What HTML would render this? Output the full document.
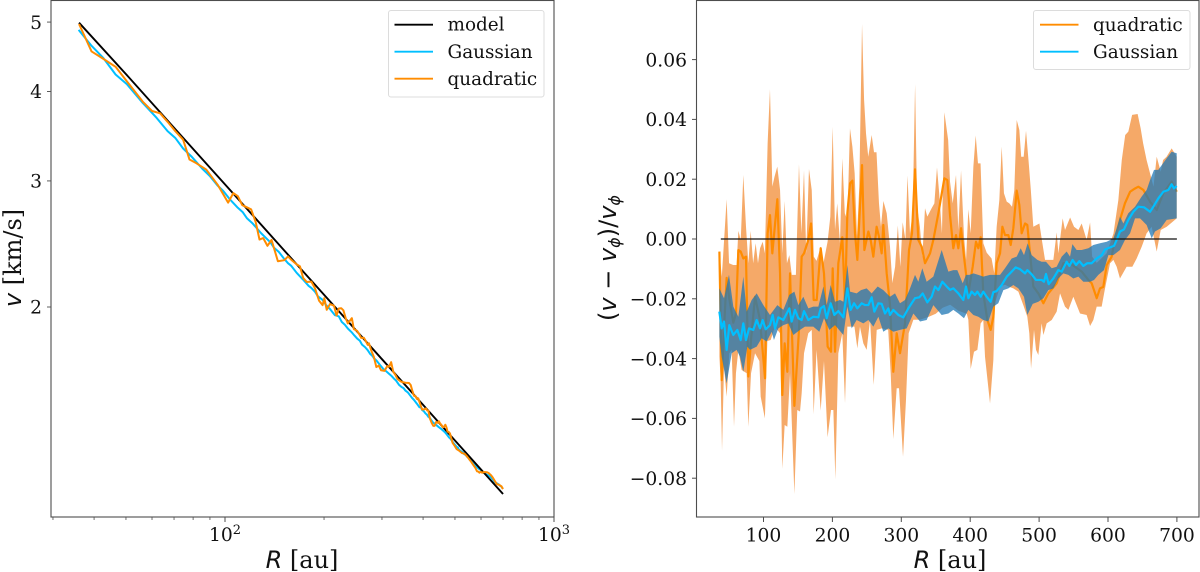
<!DOCTYPE html>
<html lang="en">
<head>
<meta charset="utf-8">
<title>Rotation velocity comparison</title>
<style>
html,body{margin:0;padding:0;background:#fff;width:1200px;height:572px;overflow:hidden}
svg{display:block}
text{font-family:"DejaVu Serif","Liberation Serif",serif;fill:#111}
.tick{font-size:18.7px}
.legend{font-size:18.4px}
.label{font-size:24px}
.math{font-family:"DejaVu Sans","Liberation Sans",sans-serif;font-style:italic}
.up{font-family:"DejaVu Sans","Liberation Sans",sans-serif;font-style:normal}
</style>
</head>
<body>
<svg id="chart" xmlns="http://www.w3.org/2000/svg" width="1200" height="572" viewBox="0 0 1200 572">
  <rect x="0" y="0" width="1200" height="572" fill="#fff"/>
  <g id="left-marks"></g>
  <g id="right-marks"></g>
  <g id="left-axes"></g>
  <g id="right-axes"></g>

  <text class="label" x="302" y="568" text-anchor="middle"><tspan class="math">R</tspan> [au]</text>
  <text class="label" text-anchor="middle" transform="translate(21,258) rotate(-90)"><tspan class="math">v</tspan> [km/s]</text>
  <text class="label" x="950" y="568" text-anchor="middle"><tspan class="math">R</tspan> [au]</text>
  <text class="label" font-size="23" text-anchor="middle" transform="translate(616,258) rotate(-90)"><tspan class="up">(</tspan><tspan class="math">v</tspan><tspan class="up"> − </tspan><tspan class="math">v</tspan><tspan class="math" font-size="16" dy="4">ϕ</tspan><tspan class="up" dy="-4">)/</tspan><tspan class="math">v</tspan><tspan class="math" font-size="16" dy="4">ϕ</tspan></text>

  <g>
    <rect x="388.5" y="10.5" width="155.5" height="86.5" rx="2.5" fill="#fff" fill-opacity="0.8" stroke="#dcdcdc" stroke-width="1"/>
    <line x1="394.5" x2="433" y1="24.7" y2="24.7" stroke="#000" stroke-width="1.9"/>
    <text class="legend" x="447.5" y="30.5">model</text>
    <line x1="394.5" x2="433" y1="51.7" y2="51.7" stroke="#00bfff" stroke-width="1.9"/>
    <text class="legend" x="447.5" y="58">Gaussian</text>
    <line x1="394.5" x2="433" y1="78.7" y2="78.7" stroke="#ff8c00" stroke-width="1.9"/>
    <text class="legend" x="447.5" y="85">quadratic</text>
  </g>
  <g>
    <rect x="1033.5" y="10.5" width="156.5" height="59" rx="2.5" fill="#fff" fill-opacity="0.8" stroke="#dcdcdc" stroke-width="1"/>
    <line x1="1040" x2="1078.5" y1="24.7" y2="24.7" stroke="#ff8c00" stroke-width="1.9"/>
    <text class="legend" x="1093" y="31">quadratic</text>
    <line x1="1040" x2="1078.5" y1="51.7" y2="51.7" stroke="#00bfff" stroke-width="1.9"/>
    <text class="legend" x="1093" y="58">Gaussian</text>
  </g>
</svg>

<script>
// Left panel: model rotation curve, R [au] and v [km/s]
const modelRadius = [36, 50, 70, 100, 150, 200, 300, 400, 500, 600, 700];
const modelVelocity = [4.99, 4.23, 3.56, 2.967, 2.41, 2.08, 1.691, 1.46, 1.302, 1.186, 1.096];

// Right panel: fractional deviation (v - v_phi) / v_phi as [R, value] pairs
const quadraticUpper = [[36,-.0042],[39.5,-.0126],[46.5,.0133],[50,-.0081],[56,-.0087],[61,-.0087],[63.5,.0027],[67,-.0003],[70.7,.0214],[74.6,.0041],[78,-.0081],[81.4,.0027],[85,-.0081],[88.6,-.0014],[92,-.0081],[95,-.0031],[98.8,-.0009],[102,-.0048],[106,.032],[109.4,.0501],[112.8,.0175],[116,.0208],[120,.0242],[124,.0164],[127.3,-.0048],[130.7,.0127],[134,-.0081],[137.5,-.0054],[141,-.012],[147,-.012],[151.5,.025],[155,.0019],[158.8,.0229],[162,-.0048],[166,.0234],[170,.0164],[173,-.0059],[177,-.0073],[183,-.0026],[187,-.0081],[193,-.0009],[197,.0075],[200.4,.0375],[203.8,.003],[207,.0119],[211,-.0014],[214.4,.027],[218,.0086],[221.7,.0064],[225.5,.037],[229,.0309],[232.3,.022],[235.7,.0008],[239,.0175],[243,.0719],[246,.0465],[248.8,.0353],[252,.0275],[257,.0348],[260.4,.029],[264,.029],[267.6,.0119],[270.5,.0041],[274,.0127],[278.8,.0086],[283.6,-.0026],[287,-.0147],[291,-.0093],[295,.0045],[298.6,-.0093],[302,.0056],[306,-.0003],[309,.0212],[312.6,.0019],[316.5,.0086],[320,.0518],[323,.0108],[327,.0041],[330.5,-.0059],[334.4,.0103],[337.8,.0075],[344,.0103],[348,.0119],[351.8,.0239],[355,.0153],[359,.0019],[362.5,.0424],[368,.0331],[370.7,.0192],[374.6,.0119],[379.4,.0214],[382.8,.003],[386.7,.0229],[391,.0008],[394,-.007],[397.3,.0099],[400.7,.0019],[404.6,.0242],[408,.0346],[411.3,.0253],[415,.0253],[419,-.0014],[424,-.0046],[431,-.0065],[435,-.0115],[438.4,.0041],[442.3,.013],[445.7,.0309],[449,.0153],[453,.0125],[456.8,.0119],[460.7,.0108],[464,.0164],[467.5,.0398],[471.3,.0365],[474,.0275],[477.6,.0275],[481,.0362],[485,.0253],[488,.0164],[491.6,.0041],[500.4,.0052],[504,-.0003],[508.6,-.007],[520.7,-.007],[525.5,.0022],[528,-.0048],[534.2,.0069],[537.6,.003],[545,.0072],[550.7,.0041],[557,.003],[561.8,.0052],[569,-.0003],[574,.0055],[577,-.0059],[583.6,-.008],[598,-.0048],[608,.0019],[615,.013],[620,.0264],[625,.0348],[629.5,.0359],[635,.0415],[643,.0418],[647.4,.037],[651,.032],[656,.0264],[661,.022],[666,.0175],[670.7,.0275],[676.5,.0225],[680,.0264],[685,.0275],[692.4,.0303],[699.7,.0275]];

const quadraticLower = [[36,-.0393],[37.8,-.0472],[39.8,-.0708],[42.7,-.0427],[46.5,-.0527],[50.4,-.0382],[53.8,-.0371],[57.2,-.0628],[60,-.0449],[63.5,-.0371],[68.3,-.0438],[71.7,-.0443],[75.6,-.0449],[78,-.0628],[81.9,-.0449],[87.7,-.0382],[94,-.0408],[95.9,-.0527],[102,-.06],[105.6,-.0341],[110.4,-.0338],[116.7,-.0293],[124,-.0315],[127.3,-.0769],[130.7,-.0622],[134.6,-.0628],[138.5,-.0449],[144.8,-.0853],[149,-.0572],[153,-.0577],[155.4,-.0516],[158.8,-.0382],[165,-.0315],[170,-.0304],[172.8,-.0586],[177,-.0371],[183,-.0574],[187.8,-.0408],[193,-.0663],[198,-.0572],[201.4,-.0572],[204.3,-.0804],[208.6,-.0382],[214.4,-.0315],[218.3,-.0549],[221.7,-.0293],[228,-.0293],[232,-.0293],[236.2,-.0366],[240,-.0293],[244.9,-.0349],[249.7,-.0371],[254.6,-.0271],[260,-.0488],[264.3,-.0304],[271.5,-.0299],[281,-.0304],[284.6,-.0449],[288.4,-.0669],[293.3,-.0499],[296.7,-.0499],[302.5,-.0728],[306.8,-.0538],[310.7,-.0315],[317.5,-.027],[327,-.027],[340,-.026],[350,-.025],[360,-.023],[371,-.022],[382.8,-.024],[395,-.025],[397.3,-.027],[400.7,-.0435],[405.5,-.0377],[410.4,-.0371],[415.2,-.0282],[419,-.0271],[421.5,-.0394],[428.8,-.055],[433.6,-.0405],[436,-.0215],[443.3,-.0159],[450.5,-.0153],[455.4,-.0159],[462.6,-.0165],[469.9,-.0176],[477.1,-.0221],[482.9,-.026],[485.8,-.0315],[488.3,-.0433],[492.6,-.0304],[495.5,-.0371],[498.9,-.0388],[503.7,-.0282],[506.2,-.0321],[511,-.0282],[518.3,-.0271],[525.5,-.0243],[530.4,-.0182],[537.6,-.0226],[542.5,-.0237],[549.7,-.0193],[559.4,-.0249],[569,-.0254],[574,-.0291],[578.7,-.0271],[583.6,-.0226],[590.8,-.0226],[595.7,-.0165],[603,-.0081],[607.8,-.007],[612.6,-.0093],[617.4,-.0132],[627,-.0093],[635.3,-.0093],[641.6,-.0065],[648.9,-.0026],[656,.0019],[663.4,.0041],[670.7,-.0042],[676.5,.003],[685.2,.0041],[699.7,.0069]];

const quadraticMean = [[36,-.0042],[39.3,-.0472],[42.7,-.03],[46.5,-.013],[50.4,-.02],[56.2,-.028],[60,-.025],[63.5,-.0037],[66.9,-.0042],[70.7,-.0065],[74.6,-.0059],[78,-.046],[81.9,-.0337],[87.7,-.0193],[94.9,-.027],[102.2,-.0466],[106,.0019],[109.4,.008],[112.8,-.0048],[120.1,.0133],[124,-.0115],[127.3,-.0522],[130.7,-.0349],[134.6,-.0444],[138.5,-.0115],[144.8,-.0558],[151.5,-.0304],[155.4,-.0059],[158.8,-.0048],[165.1,-.0003],[169,.0052],[172.8,-.0204],[177.2,-.0204],[183,-.0031],[187.8,-.0115],[193.1,-.036],[198,-.0377],[200.4,-.0098],[203.8,-.0377],[208.6,-.0081],[214.4,.0006],[218.3,-.0215],[221.7,.0086],[225.6,.0186],[229,.0195],[232.8,.0019],[236.2,-.007],[243,.0247],[246.4,-.0037],[252.2,.0025],[255.5,-.0003],[259.4,-.0059],[264.2,.0041],[267.6,.0008],[271.5,-.0048],[273.9,.0047],[278.8,-.0115],[283.6,-.022],[288.4,-.0444],[293.3,-.0315],[298.1,-.0382],[305.4,-.0282],[311.2,-.0037],[315.5,.0019],[319.9,.0233],[324.7,-.0003],[329.6,-.0026],[334.4,-.0081],[341.7,-.0048],[346.5,-.0003],[353.8,.0086],[362.5,.0203],[366.8,.0197],[370.7,.008],[375.5,-.0031],[379.4,.0013],[382.8,-.0031],[386.7,.0036],[391,-.0059],[397.3,-.0182],[403.6,-.0093],[408.4,-.0009],[411.8,-.0031],[415.2,.0006],[419,-.0182],[424.9,-.0271],[429.7,-.0304],[433.6,-.026],[438.4,-.0081],[443.3,-.0048],[446.7,.0041],[450.5,.0013],[455.4,.0013],[458.8,-.002],[462.6,.0036],[467.5,.0162],[471.3,.0114],[474.7,.0019],[479.6,.0052],[482.9,.0047],[486.8,-.0048],[491.6,-.0159],[498.9,-.0182],[506.2,-.0215],[513.4,-.0182],[525.5,-.0148],[535.2,-.0081],[544.9,-.0081],[561.8,-.0109],[571.5,-.0137],[576.3,-.0148],[583.6,-.0198],[588.4,-.0165],[593.2,-.016],[598.1,-.0087],[605.3,-.0059],[610.2,.0002],[617.4,.0064],[624.7,.012],[632,.0158],[639.2,.0169],[644,.0175],[651.3,.0164],[661,.0125],[670.7,.0097],[680.3,.0153],[692.4,.0192],[699.7,.0158]];

const gaussianUpper = [[35.9,-.0165],[42.7,-.0198],[49.9,-.012],[56.2,-.0226],[63.5,-.026],[70.7,-.0126],[75.6,-.0243],[82.8,-.0204],[90.1,-.0182],[99.8,-.0221],[109.4,-.0254],[120.1,-.0221],[128.8,-.0237],[137.5,-.0187],[144.8,-.0176],[150.6,-.0221],[157.8,-.0193],[165.1,-.0232],[172.3,-.0226],[179.6,-.0226],[186.9,-.0159],[191.7,-.0221],[197.5,-.0154],[203.8,-.021],[211,-.0204],[215.9,-.021],[221.7,-.0087],[225.6,-.0176],[235.2,-.0182],[241.5,-.0171],[249.7,-.0165],[257,-.0182],[265.7,-.0159],[273.9,-.0171],[283.6,-.0193],[290.9,-.0182],[298.1,-.0215],[305.4,-.0204],[311.7,-.0171],[319.9,-.012],[324.7,-.0143],[330.5,-.0098],[336.8,-.0143],[346.5,-.0126],[358.6,-.0037],[368.3,-.0109],[375.5,-.0104],[381.3,-.0104],[389.1,-.0148],[393.9,-.012],[398.8,-.012],[404.6,-.0115],[411.8,-.012],[419,-.0126],[428.8,-.012],[435,-.012],[443.3,-.012],[450.5,-.0098],[460.2,-.0065],[467.5,-.0059],[473.3,-.0031],[478.1,-.0054],[483.4,-.0014],[489.2,-.0054],[497.5,-.007],[503.7,-.0076],[510,-.0076],[518.3,-.0098],[525.5,-.0093],[532.8,-.0059],[540,-.0042],[544.9,-.0059],[548.3,-.0017],[554.5,-.0037],[561.8,-.0037],[571.5,-.0031],[578.7,-.002],[588.4,-.0014],[598.1,-.0009],[607.8,.0002],[612.6,.0036],[617.4,.0075],[622.3,.0052],[629.5,.0086],[639.2,.0108],[648.9,.0142],[656.1,.0164],[661,.0197],[666.8,.0231],[673,.0231],[685.2,.027],[692.4,.0292],[699.7,.0287]];

const gaussianLower = [[35.9,-.0327],[39.3,-.0394],[46.5,-.0483],[53.8,-.0382],[61,-.0371],[65.9,-.0394],[70.7,-.0444],[76.5,-.036],[80.4,-.0371],[90.1,-.036],[97.3,-.0332],[104.6,-.0343],[111.9,-.031],[115.2,-.0338],[121.5,-.0299],[128.8,-.0288],[136,-.0282],[143.3,-.0321],[153,-.0304],[160.2,-.0293],[172.3,-.0293],[181,-.031],[187.8,-.0265],[195.6,-.0304],[203.8,-.0288],[215.9,-.0321],[221.7,-.0226],[228,-.0299],[235.2,-.0271],[244.9,-.0282],[252.2,-.0271],[259.4,-.0293],[266.7,-.026],[273.9,-.031],[281.2,-.0299],[288.4,-.031],[298.1,-.0304],[307.8,-.0299],[317.5,-.0249],[327.2,-.0276],[336.8,-.0271],[346.5,-.0221],[358.6,-.0254],[368.3,-.0249],[375.5,-.0237],[382.8,-.0249],[391,-.0265],[397.3,-.0237],[404.6,-.0254],[411.8,-.026],[419,-.0271],[426.3,-.0276],[433.6,-.0226],[440.8,-.0215],[448.1,-.0171],[455.4,-.0165],[462.6,-.0154],[469.9,-.0165],[478.1,-.0193],[482.9,-.0254],[490.7,-.0217],[498.9,-.021],[506.2,-.0198],[513.4,-.0171],[520.7,-.0165],[527.9,-.0132],[535.2,-.0115],[542.5,-.012],[549.7,-.0132],[557,-.0126],[564.2,-.0143],[573.9,-.0143],[579.7,-.0137],[586,-.012],[594.2,-.0104],[600.5,-.0054],[607.8,-.0054],[617.4,-.0037],[624.7,-.0003],[632,.0019],[639.2,.0069],[646.5,.0069],[656.1,.0047],[663.4,.0002],[668.2,.0025],[676.5,.0036],[685.2,.0064],[699.7,.0069]];

const gaussianMean = [[35.9,-.0243],[39.3,-.0299],[42.7,-.0276],[46.5,-.0371],[50.4,-.0288],[56.2,-.0321],[62,-.0304],[66.9,-.0338],[70.7,-.0282],[74.6,-.0338],[79,-.0299],[85.2,-.0304],[90.1,-.0271],[94.9,-.0299],[98.8,-.0271],[103.2,-.0302],[109.4,-.0288],[113.3,-.0254],[116.7,-.0299],[121.5,-.0262],[128.8,-.0271],[137.5,-.0232],[140.9,-.0276],[145.7,-.0237],[150.6,-.0265],[155.4,-.0271],[158.8,-.0241],[165.1,-.0271],[172.3,-.026],[179.6,-.0262],[183,-.0232],[187.8,-.0224],[191.7,-.0265],[197.5,-.0215],[202.8,-.0254],[208.6,-.0241],[215.9,-.0262],[221.7,-.0165],[226.5,-.0237],[231.4,-.0215],[236.2,-.0232],[242.5,-.0215],[247.3,-.0221],[252.2,-.0221],[257,-.0195],[260.9,-.0243],[266.7,-.0215],[271.5,-.0217],[276.4,-.0249],[281.2,-.0232],[283.6,-.0254],[288.4,-.0237],[295.7,-.0254],[303,-.0262],[310.2,-.0232],[315.1,-.0215],[319.9,-.0198],[326.2,-.0195],[331,-.0182],[337.8,-.0212],[344.1,-.0193],[348.9,-.0159],[353.8,-.0171],[359.6,-.0143],[365.9,-.0159],[370.7,-.017],[375.5,-.0165],[382.8,-.0182],[390,-.0204],[393.9,-.0159],[397.3,-.0198],[402.1,-.0176],[407,-.0187],[410.4,-.0176],[415.2,-.0193],[419,-.0176],[423.9,-.0193],[429.7,-.021],[433.6,-.0178],[438.4,-.0174],[445.7,-.0154],[453,-.0126],[460.2,-.0109],[466,-.0095],[472.3,-.0101],[479.6,-.0115],[482.9,-.0104],[489.2,-.0118],[495.5,-.0137],[503.7,-.0137],[507.1,-.0143],[510,-.0117],[513.9,-.0151],[520.7,-.0132],[527.9,-.0104],[532.8,-.0109],[540,-.0076],[543.9,-.009],[548.7,-.007],[553.6,-.0087],[558.4,-.0074],[564.2,-.009],[570,-.0081],[576.3,-.0081],[583.6,-.0065],[590.8,-.0054],[595.7,-.0035],[603,-.0028],[608.7,-.0023],[612.6,-.0003],[617.4,.0025],[623.2,.0032],[629.5,.0064],[636.8,.0091],[644,.0108],[652.3,.0106],[661,.0091],[665.8,.0108],[673.1,.0136],[680.3,.0158],[687.6,.0164],[692.4,.0183],[695.8,.0169],[699.7,.0177]];

// Reference line on the right panel
const zeroLineRadius = [38, 700];
const zeroLineValue = [0, 0];

// Tick labels and values
const leftXMajor = [100, 1000];
const leftXMajorExponent = ["2", "3"];
const leftXMinor = [30, 40, 50, 60, 70, 80, 90, 200, 300, 400, 500, 600, 700, 800, 900];
const leftYTicks = [5, 4, 3, 2];
const rightXTicks = [100, 200, 300, 400, 500, 600, 700];
const rightYTicks = [0.06, 0.04, 0.02, 0, -0.02, -0.04, -0.06, -0.08];

// Axis functions
const SVGNS = "http://www.w3.org/2000/svg";
const xLeft = r => 554 - 329 * (3 - Math.log10(r));
const yLeft = v => 307 - 716 * Math.log10(v / 2);
const xRight = r => 694.6 + 0.689 * r;
const yRight = f => 239 - 2990 * f;

function modelAt(r) {
  let i = 0;
  while (i < modelRadius.length - 2 && r > modelRadius[i + 1]) i++;
  const t = (Math.log(r) - Math.log(modelRadius[i])) / (Math.log(modelRadius[i + 1]) - Math.log(modelRadius[i]));
  return Math.exp(Math.log(modelVelocity[i]) + t * (Math.log(modelVelocity[i + 1]) - Math.log(modelVelocity[i])));
}
const pointsFrom = (rows, fx, fy) => rows.map(p => fx(p[0]).toFixed(2) + "," + fy(p[1]).toFixed(2));
function polyPath(rows, fx, fy) { return "M" + pointsFrom(rows, fx, fy).join("L"); }
function bandPath(up, low, fx, fy) {
  return "M" + pointsFrom(up, fx, fy).concat(pointsFrom(low, fx, fy).reverse()).join("L") + "Z";
}
function make(tag, parent, props) {
  const el = document.createElementNS(SVGNS, tag);
  for (const k in props) el.setAttribute(k, props[k]);
  parent.appendChild(el);
  return el;
}

const leftMarks = document.getElementById("left-marks");
const rightMarks = document.getElementById("right-marks");
const leftAxes = document.getElementById("left-axes");
const rightAxes = document.getElementById("right-axes");

// ---- Left panel series ----
const toVelocity = rows => rows.map(p => [p[0], modelAt(p[0]) * (1 + p[1])]);
const modelRows = modelRadius.map((r, i) => [r, modelVelocity[i]]);

const leftGaussian = make("path", leftMarks, {d: polyPath(toVelocity(gaussianMean), xLeft, yLeft), fill: "none", stroke: "#00bfff", "stroke-width": 2, "stroke-linejoin": "round"});



const leftModel = make("path", leftMarks, {d: polyPath(modelRows, xLeft, yLeft), fill: "none", stroke: "#000", "stroke-width": 1.9});



const leftQuadratic = make("path", leftMarks, {d: polyPath(toVelocity(quadraticMean), xLeft, yLeft), fill: "none", stroke: "#ff8c00", "stroke-width": 2, "stroke-linejoin": "round"});



// ---- Right panel series ----
const qBand = make("path", rightMarks, {d: bandPath(quadraticUpper, quadraticLower, xRight, yRight), fill: "#f4a460", "fill-opacity": 0.95, stroke: "none"});



const qLine = make("path", rightMarks, {d: polyPath(quadraticMean, xRight, yRight), fill: "none", stroke: "#ff8c00", "stroke-width": 2.2, "stroke-linejoin": "round"});



const gBand = make("path", rightMarks, {d: bandPath(gaussianUpper, gaussianLower, xRight, yRight), fill: "#1f77b4", "fill-opacity": 0.75, stroke: "none"});



const gLine = make("path", rightMarks, {d: polyPath(gaussianMean, xRight, yRight), fill: "none", stroke: "#00bfff", "stroke-width": 2.2, "stroke-linejoin": "round"});



const zeroLine = make("path", rightMarks, {d: polyPath(zeroLineRadius.map((r, i) => [r, zeroLineValue[i]]), xRight, yRight), fill: "none", stroke: "#111", "stroke-width": 1.3});



// ---- Left axes ----
const leftFrame = make("rect", leftAxes, {x: 51, y: 0.5, width: 503, height: 516.5, fill: "none", stroke: "#4d4d4d", "stroke-width": 1.1});



leftXMinor.forEach(function (r) {
  const t = make("line", leftAxes, {x1: xLeft(r), x2: xLeft(r), y1: 517, y2: 520, stroke: "#4d4d4d", "stroke-width": 0.8});
  
  
});
leftXMajor.forEach(function (r, i) {
  const t = make("line", leftAxes, {x1: xLeft(r), x2: xLeft(r), y1: 517, y2: 522, stroke: "#4d4d4d", "stroke-width": 1});
  
  
  const label = make("text", leftAxes, {x: xLeft(r), y: 541, "text-anchor": "middle", "class": "tick"});
  
  
  label.textContent = "10";
  const sup = make("tspan", label, {"font-size": "13", dy: "-7"});
  
  
  sup.textContent = leftXMajorExponent[i];
});
leftYTicks.forEach(function (v) {
  const t = make("line", leftAxes, {x1: 47, x2: 51, y1: yLeft(v), y2: yLeft(v), stroke: "#4d4d4d", "stroke-width": 0.9});
  
  
  const label = make("text", leftAxes, {x: 42, y: yLeft(v) + 6.7, "text-anchor": "end", "class": "tick"});
  
  
  label.textContent = String(v);
});

// ---- Right axes ----
const rightFrame = make("rect", rightAxes, {x: 696.5, y: 0.5, width: 502.5, height: 516.5, fill: "none", stroke: "#4d4d4d", "stroke-width": 1.1});



rightXTicks.forEach(function (r) {
  const t = make("line", rightAxes, {x1: xRight(r), x2: xRight(r), y1: 517, y2: 522, stroke: "#4d4d4d", "stroke-width": 1});
  
  
  const label = make("text", rightAxes, {x: xRight(r), y: 541.5, "text-anchor": "middle", "class": "tick"});
  
  
  label.textContent = String(r);
});
rightYTicks.forEach(function (f) {
  const t = make("line", rightAxes, {x1: 692, x2: 696.5, y1: yRight(f), y2: yRight(f), stroke: "#4d4d4d", "stroke-width": 1});
  
  
  const label = make("text", rightAxes, {x: 687, y: yRight(f) + 6.7, "text-anchor": "end", "class": "tick"});
  
  
  label.textContent = (f < 0 ? "\u2212" : "") + Math.abs(f).toFixed(2);
});
</script>
</body>
</html>
